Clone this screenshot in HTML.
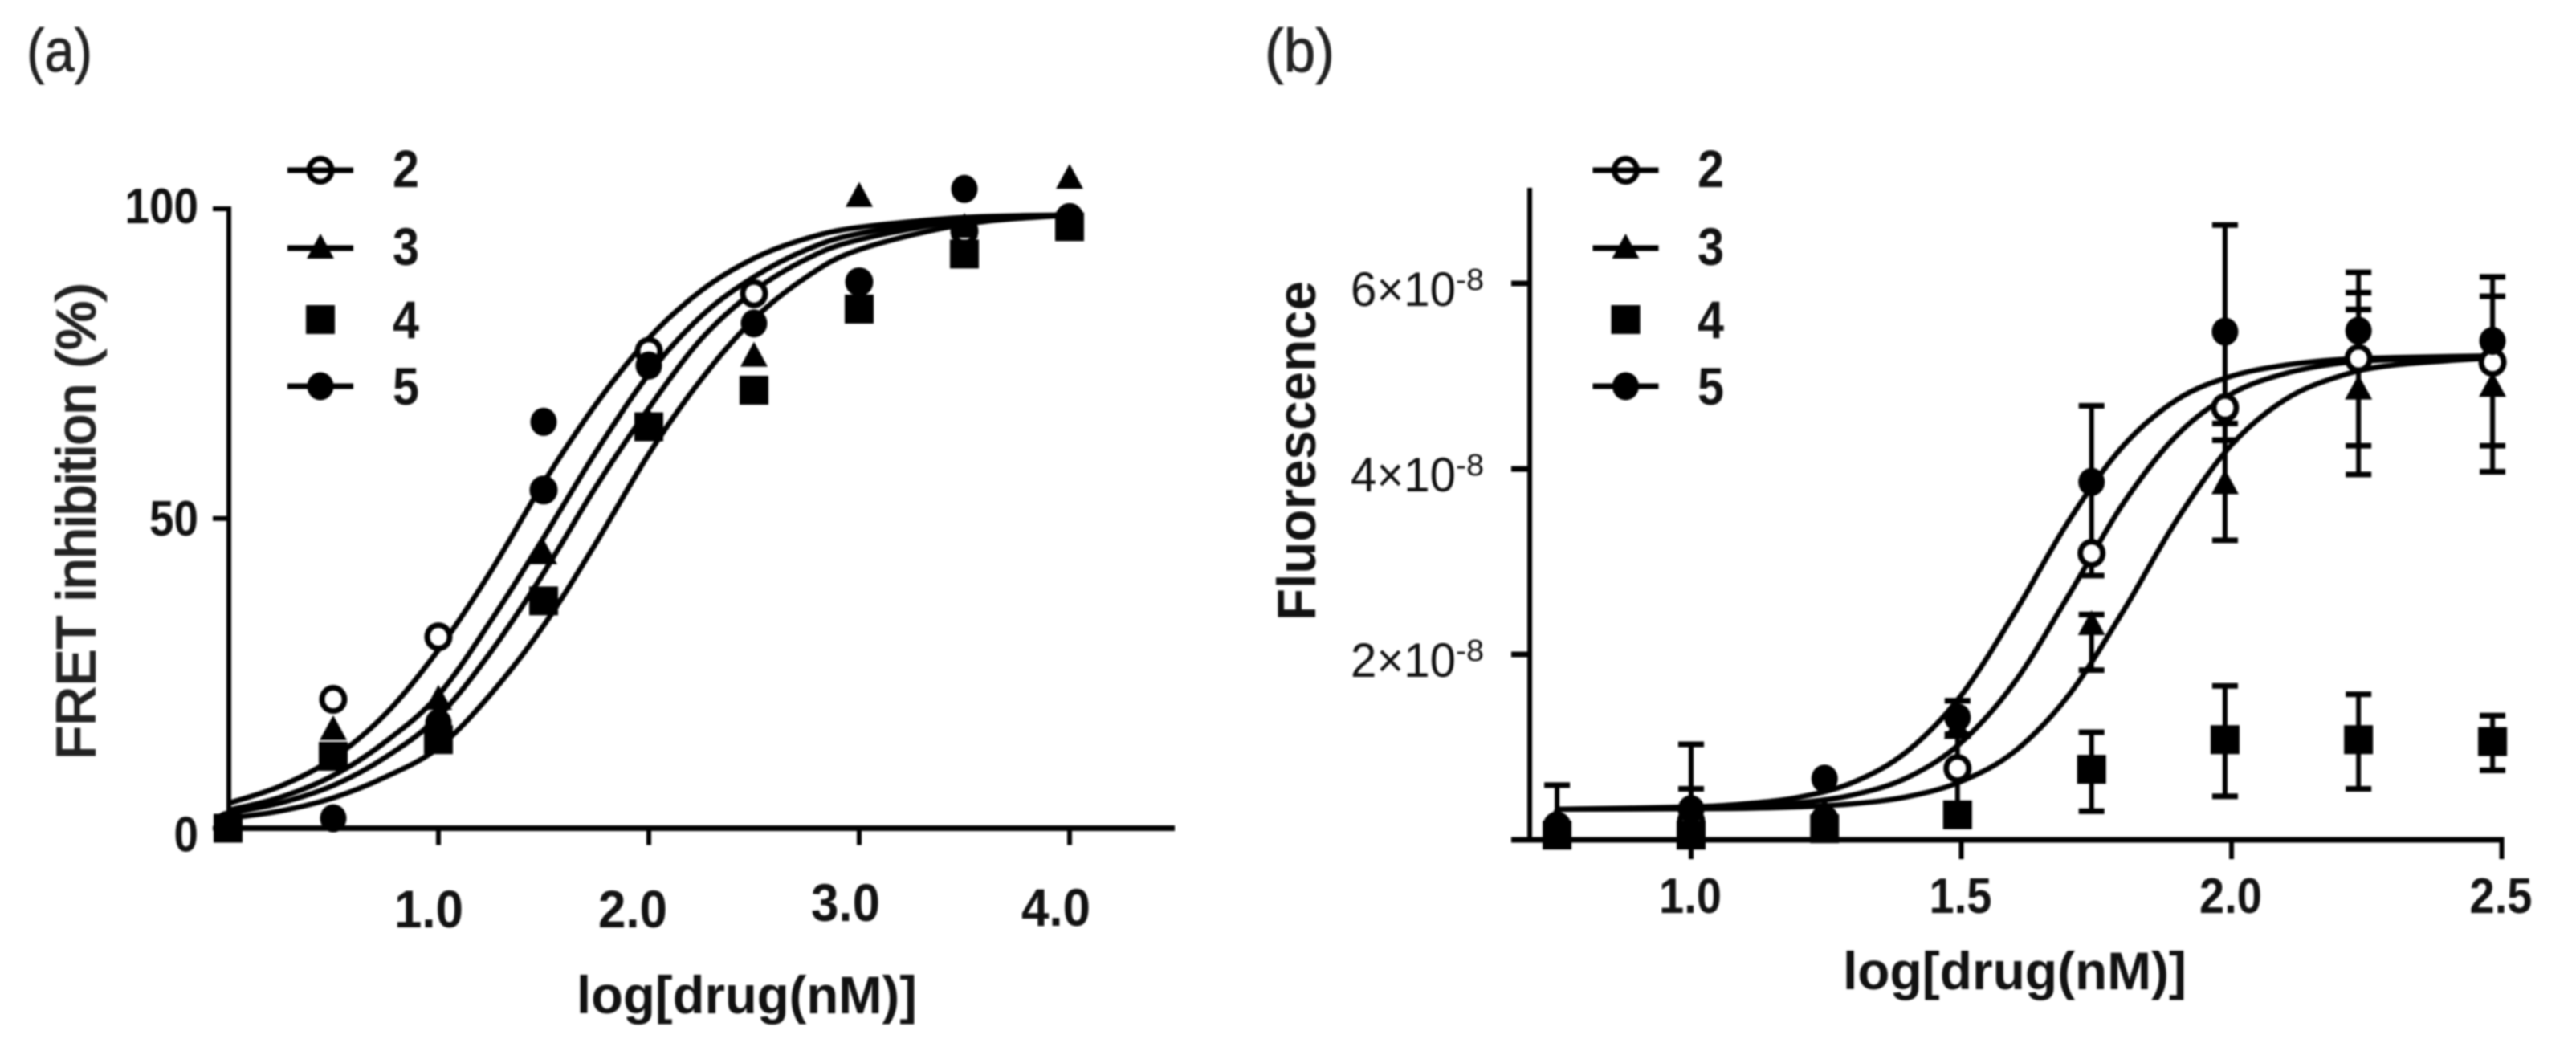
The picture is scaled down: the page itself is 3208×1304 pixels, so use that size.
<!DOCTYPE html>
<html lang="en">
<head>
<meta charset="utf-8">
<title>FRET inhibition and fluorescence dose-response curves</title>
<style>
html,body{margin:0;padding:0;background:#fff;}
svg{display:block;filter:blur(1.1px);}
text{font-family:"Liberation Sans",Arial,sans-serif;}
</style>
</head>
<body>
<svg id="figure" xmlns="http://www.w3.org/2000/svg" width="3208" height="1304" viewBox="0 0 3208 1304">
  <rect x="0" y="0" width="3208" height="1304" fill="#fff"/>
  <text x="33" y="89" font-size="76" fill="#222" stroke="#222" stroke-width="0.8" textLength="82" lengthAdjust="spacingAndGlyphs">(a)</text>
  <text x="1575" y="89" font-size="76" fill="#222" stroke="#222" stroke-width="0.8" textLength="87" lengthAdjust="spacingAndGlyphs">(b)</text>
  <text transform="translate(118,946) rotate(-90)" font-size="68" fill="#222" stroke="#222" stroke-width="2.2" textLength="594" lengthAdjust="spacingAndGlyphs">FRET inhibition (%)</text>
  <text x="718" y="1262" font-size="66" font-weight="bold" fill="#111" textLength="424" lengthAdjust="spacingAndGlyphs">log[drug(nM)]</text>
  <text transform="translate(1638,773) rotate(-90)" font-size="68" font-weight="bold" fill="#111" textLength="423" lengthAdjust="spacingAndGlyphs">Fluorescence</text>
  <text x="2295" y="1232" font-size="66" font-weight="bold" fill="#111" textLength="428" lengthAdjust="spacingAndGlyphs">log[drug(nM)]</text>
  <g id="layer"></g>
</svg>
<script>
// ---- Panel (a) data ----
const aXTicks = [1.0, 2.0, 3.0, 4.0];
const aYTicks = [0, 50, 100];
const aDoses = [0, 0.5, 1, 1.5, 2, 2.5, 3, 3.5, 4];
const aSeries2 = [0.5, 20.8, 30.9, 54.6, 77, 86.3, 88.2, 96.4, 98.6];
const aSeries3 = [0.5, 15.9, 20.8, 44.3, 65.5, 76.2, 102, 97, 104.9];
const aSeries4 = [0, 11.6, 14.3, 36.7, 64.8, 70.7, 83.8, 92.7, 97.1];
const aSeries5 = [0.5, 1.6, 17, 65.6, 74.7, 81.5, 88.2, 103.2, 98.6];
const aSeries5ExtraDose = [1.5];
const aSeries5ExtraValue = [54.6];
const aCurveDoses = [0, 0.25, 0.5, 0.75, 1, 1.25, 1.5, 1.75, 2, 2.25, 2.5, 2.75, 3, 3.5, 4];
const aCurve1 = [4, 6.8, 11.3, 18.5, 28.8, 41.5, 55.8, 68.5, 79.1, 86.8, 92, 95.2, 97, 98.6, 99];
const aCurve2 = [2.9, 5, 8.5, 14, 21.5, 33.5, 46.9, 60.8, 73.3, 82.7, 89, 93.4, 96, 98.4, 99];
const aCurve3 = [2.4, 4.1, 6.9, 11.5, 18, 28.5, 41.2, 55.2, 67.8, 79, 86.7, 91.9, 95, 98.1, 99];
const aCurve4 = [1.6, 2.8, 4.9, 8.3, 13, 21.7, 32.7, 46.1, 60.4, 72.5, 82.2, 89, 93.4, 97.5, 99];

// ---- Panel (b) data ----
const bXTicks = [1.0, 1.5, 2.0, 2.5];
const bYTicks = [0, 2, 4, 6];
const bYExponent = '-8';
const bDoses = [0.752, 1.0, 1.247, 1.493, 1.741, 1.988, 2.235, 2.483];
const bSeries2 = [0.15, 0.2, 0.22, 0.77, 3.09, 4.66, 5.19, 5.15];
const bSeries3 = [0.22, 0.33, 0.3, 1.2, 2.32, 3.84, 4.86, 4.89];
const bSeries4 = [0.05, 0.05, 0.12, 0.27, 0.76, 1.08, 1.08, 1.06];
const bSeries5 = [0.12, 0.33, 0.66, 1.32, 3.86, 5.48, 5.49, 5.38];
const bUpper2 = [0.59, 0.55, null, 1.13, null, null, 5.9, 5.86];
const bLower2 = [null, null, null, 0.27, 2.85, 4.49, 4.25, 4.25];
const bUpper3 = [null, null, null, null, 2.43, 4.31, 5.72, null];
const bLower3 = [null, null, null, null, 1.83, 3.23, 3.94, 3.97];
const bUpper4 = [null, null, null, null, 1.16, 1.66, 1.57, 1.34];
const bLower4 = [null, null, null, null, 0.31, 0.47, 0.55, 0.75];
const bUpper5 = [null, 1.03, null, 1.5, 4.68, 6.63, 6.12, 6.07];
const bLower5 = [null, null, null, 1.14, 3.09, 4.31, null, null];
const bCurveDoses = [0.75, 1, 1.1, 1.2, 1.3, 1.4, 1.5, 1.6, 1.7, 1.8, 1.9, 2, 2.1, 2.2, 2.3, 2.49];
const bCurve1 = [0.33, 0.356, 0.39, 0.46, 0.62, 0.955, 1.56, 2.46, 3.45, 4.25, 4.75, 5, 5.12, 5.18, 5.2, 5.22];
const bCurve2 = [0.33, 0.343, 0.36, 0.4, 0.485, 0.67, 1.05, 1.71, 2.65, 3.63, 4.37, 4.81, 5.03, 5.14, 5.18, 5.22];
const bCurve3 = [0.33, 0.335, 0.34, 0.356, 0.39, 0.465, 0.63, 0.96, 1.57, 2.47, 3.46, 4.26, 4.75, 5, 5.12, 5.2];

// ---- Legend ----
const legendLabels = ['2', '3', '4', '5'];
const legendKinds = ['hollow', 'triangle', 'square', 'circle'];
const legendHasLine = [true, true, false, true];

// ---- Axis functions ----
const xA = v => 284 + 262 * v;
const yA = v => 1031.5 - 7.715 * v;
const xB = v => 2106 + 673 * (v - 1);
const yB = v => 1046 - 115.5 * v;

// ---- Layout nudges (the source figure's labels were hand placed) ----
const aXLabelShift = [[-12, 0], [-20, 0], [-17, -8], [-17, -2]];
const aYLabelDrop = [29, 21, 18];
const legendRowY = [212, 309, 398, 481];
const legendBaseline = [233, 330, 421, 504];

const NS = 'http://www.w3.org/2000/svg';
const layer = document.getElementById('layer');

function shape(tag, attrs) {
  const el = document.createElementNS(NS, tag);
  for (const k in attrs) el.setAttribute(k, attrs[k]);
  layer.appendChild(el);
  return el;
}
function seg(x1, y1, x2, y2, w) {
  return shape('line', {x1: x1, y1: y1, x2: x2, y2: y2, stroke: '#000', 'stroke-width': w});
}
function label(x, y, str, size, weight, anchor, len, fill) {
  const el = shape('text', {x: x, y: y, 'font-size': size, 'font-weight': weight, 'text-anchor': anchor,
    fill: fill, textLength: len, lengthAdjust: 'spacingAndGlyphs'});
  el.textContent = str;
  return el;
}
function marker(kind, cx, cy) {
  if (kind === 'hollow') return shape('ellipse', {cx: cx, cy: cy, rx: 14, ry: 14.5, fill: '#fff', stroke: '#000', 'stroke-width': 7});
  if (kind === 'circle') return shape('ellipse', {cx: cx, cy: cy, rx: 16.5, ry: 17.5, fill: '#000'});
  if (kind === 'square') return shape('rect', {x: cx - 18, y: cy - 18, width: 36, height: 36, fill: '#000'});
  return shape('polygon', {points: (cx) + ',' + (cy - 18) + ' ' + (cx + 17) + ',' + (cy + 13) + ' ' + (cx - 17) + ',' + (cy + 13), fill: '#000'});
}
function smoothPath(doses, values, xf, yf) {
  const p = doses.map((d, i) => [xf(d), yf(values[i])]);
  let s = 'M' + p[0][0].toFixed(1) + ' ' + p[0][1].toFixed(1);
  for (let i = 0; i < p.length - 1; i++) {
    const p0 = p[Math.max(i - 1, 0)], p1 = p[i], p2 = p[i + 1], p3 = p[Math.min(i + 2, p.length - 1)];
    const c1x = p1[0] + (p2[0] - p0[0]) / 6, c1y = p1[1] + (p2[1] - p0[1]) / 6;
    const c2x = p2[0] - (p3[0] - p1[0]) / 6, c2y = p2[1] - (p3[1] - p1[1]) / 6;
    s += 'C' + c1x.toFixed(1) + ' ' + c1y.toFixed(1) + ' ' + c2x.toFixed(1) + ' ' + c2y.toFixed(1) + ' ' + p2[0].toFixed(1) + ' ' + p2[1].toFixed(1);
  }
  return s;
}

// ---- Panel (a) axes ----
const aYAxis = seg(xA(0) + 1, yA(100) - 3, xA(0) + 1, yA(0) + 3, 6);


const aXAxis = seg(xA(0) - 1, yA(0), xA(4.5), yA(0), 7);


aXTicks.forEach((t, i) => {
  const tick = seg(xA(t), yA(0), xA(t), yA(0) + 21, 6);
  
  
  const txt = label(xA(t) + aXLabelShift[i][0], 1155 + aXLabelShift[i][1], t.toFixed(1), 66, 'bold', 'middle', 86, '#111');
  
  
});
aYTicks.forEach((t, i) => {
  const tick = seg(xA(0) - 19, yA(t), xA(0) + 2, yA(t), 6);
  
  
  const str = String(t);
  const txt = label(247, yA(t) + aYLabelDrop[i], str, 62, 'bold', 'end', 30.5 * str.length, '#111');
  
  
});

// ---- Panel (b) axes ----
const bYAxis = seg(1905, 234, 1905, yB(0) + 3, 6);


const bXAxis = seg(1882, yB(0), xB(2.5) + 3, yB(0), 7);


bXTicks.forEach(t => {
  const tick = seg(xB(t), yB(0), xB(t), yB(0) + 24, 6);
  
  
  const txt = label(xB(t) - 1, 1137, t.toFixed(1), 62, 'bold', 'middle', 78, '#111');
  
  
});
bYTicks.forEach(t => {
  const tick = seg(1882, yB(t), 1906, yB(t), 7);
  
  
  if (t === 0) return;
  const mant = label(1682, yB(t) + 28, t + '\u00d710', 60, 'normal', 'start', 131, '#111');
  
  
  const exp = label(1813, yB(t) + 8, bYExponent, 38, 'normal', 'start', 35, '#111');
  
  
});

// ---- Panel (b) error bars ----
[[bUpper2, bLower2, bSeries2], [bUpper3, bLower3, bSeries3], [bUpper4, bLower4, bSeries4], [bUpper5, bLower5, bSeries5]].forEach(set => {
  bDoses.forEach((d, i) => {
    [set[0][i], set[1][i]].forEach(limit => {
      if (limit === null) return;
      const stem = seg(xB(d), yB(set[2][i]), xB(d), yB(limit), 6);
      
      
      const cap = seg(xB(d) - 16, yB(limit), xB(d) + 16, yB(limit), 7);
      
      
    });
  });
});

// ---- Fit curves ----
[aCurve1, aCurve2, aCurve3, aCurve4].forEach(values => {
  const c = shape('path', {d: smoothPath(aCurveDoses, values, xA, yA), fill: 'none', stroke: '#000', 'stroke-width': 6.5});
  
  
});
[bCurve1, bCurve2, bCurve3].forEach(values => {
  const c = shape('path', {d: smoothPath(bCurveDoses, values, xB, yB), fill: 'none', stroke: '#000', 'stroke-width': 6.5});
  
  
});

// ---- Data points ----
[aSeries2, aSeries3, aSeries4, aSeries5].forEach((values, s) => {
  values.forEach((v, i) => {
    const m = marker(legendKinds[s], xA(aDoses[i]), yA(v));
    
    
  });
});
aSeries5ExtraDose.forEach((d, i) => {
  const m = marker('circle', xA(d), yA(aSeries5ExtraValue[i]));
  
  
});
[bSeries2, bSeries3, bSeries4, bSeries5].forEach((values, s) => {
  values.forEach((v, i) => {
    const m = marker(legendKinds[s], xB(bDoses[i]), yB(v));
    
    
  });
});

// ---- Legends ----
[[399, 489], [2024.5, 2114]].forEach(pos => {
  legendLabels.forEach((lab, i) => {
    const m = marker(legendKinds[i], pos[0], legendRowY[i]);
    
    
    if (legendHasLine[i]) {
      const l = seg(pos[0] - 41, legendRowY[i], pos[0] + 41, legendRowY[i], 7);
      
      
    }
    const t = label(pos[1], legendBaseline[i], lab, 66, 'bold', 'start', 33, '#111');
    
    
  });
});
</script>
</body>
</html>
